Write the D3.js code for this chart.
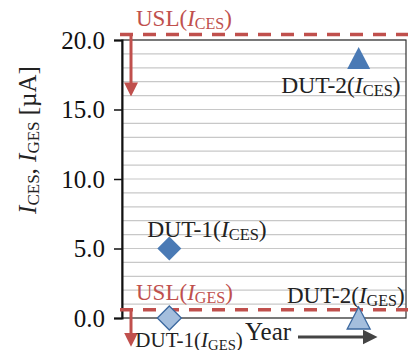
<!DOCTYPE html>
<html>
<head>
<meta charset="utf-8">
<script src="https://cdn.jsdelivr.net/npm/d3@7"></script>
<style>
  html, body { margin: 0; padding: 0; background: #fff; }
  text { font-family: "Liberation Serif", "Times New Roman", serif; }
</style>
</head>
<body>
<div id="root"></div>
<script>
const devices = ["DUT-1", "DUT-2"];
const devicePos = [0.5, 2.5];
const icesValues = [5.0, 18.7];
const igesValues = [0.0, 0.0];
const uslNames = ["CES", "GES"];
const uslValues = [20.4, 0.6];
const yTicks = [0, 5, 10, 15, 20];
const yMinor = d3.range(0, 21, 1);

const width = 408;
const height = 350;
const margin = { top: 40, right: 2, bottom: 32, left: 122 };
const innerWidth = width - margin.left - margin.right;
const innerHeight = height - margin.top - margin.bottom;

const red = "#c0504d";
const blue = "#4a7ab5";
const lightBlue = "#a4bedd";
const textColor = "#222";

const svg = d3.select("#root")
  .append("svg")
  .attr("width", width)
  .attr("height", height)
  .attr("viewBox", `0 0 ${width} ${height}`);

const defs = svg.append("defs");
defs.append("marker")
  .attr("id", "redHead")
  .attr("viewBox", "0 0 10 10")
  .attr("refX", 5).attr("refY", 5)
  .attr("markerUnits", "userSpaceOnUse")
  .attr("markerWidth", 14).attr("markerHeight", 14)
  .attr("orient", "auto")
  .append("path").attr("d", "M0,0 L10,5 L0,10 Z").attr("fill", red);
defs.append("marker")
  .attr("id", "grayHead")
  .attr("viewBox", "0 0 10 10")
  .attr("refX", 5).attr("refY", 5)
  .attr("markerUnits", "userSpaceOnUse")
  .attr("markerWidth", 15).attr("markerHeight", 15)
  .attr("orient", "auto")
  .append("path").attr("d", "M0,0 L10,5 L0,10 Z").attr("fill", "#444");

const g = svg.append("g")
  .attr("transform", `translate(${margin.left}, ${margin.top})`);

const xScale = d3.scaleLinear().domain([0, 3]).range([0, innerWidth]);
const yScale = d3.scaleLinear().domain([0, 20]).range([innerHeight, 0]);

// minor grid
g.selectAll("line.grid")
  .data(yMinor)
  .join("line")
  .attr("class", "grid")
  .attr("x1", 0).attr("x2", innerWidth)
  .attr("y1", d => yScale(d)).attr("y2", d => yScale(d))
  .attr("stroke", "#c8c8c8")
  .attr("stroke-width", 1.2);

// frame
g.append("rect")
  .attr("x", 0).attr("y", 0)
  .attr("width", innerWidth).attr("height", innerHeight)
  .attr("fill", "none")
  .attr("stroke", "#333")
  .attr("stroke-width", 1.2);

// y axis
const yAxis = g.append("g")
  .call(d3.axisLeft(yScale).tickValues(yTicks).tickFormat(d3.format(".1f")).tickSize(8).tickPadding(9));
yAxis.select(".domain").attr("stroke", "#111").attr("stroke-width", 2);
yAxis.selectAll(".tick line").attr("stroke", "#111").attr("stroke-width", 1.5);
yAxis.selectAll(".tick text")
  .attr("font-size", 25)
  .attr("fill", "#111");

// y title
const yTitle = svg.append("text")
  .attr("transform", "translate(36, 140) rotate(-90)")
  .attr("text-anchor", "middle")
  .attr("font-size", 25)
  .attr("fill", textColor);
yTitle.append("tspan").attr("font-style", "italic").text("I");
yTitle.append("tspan").attr("font-size", 17).attr("dy", 3).text("CES");
yTitle.append("tspan").attr("dy", -3).text(", ");
yTitle.append("tspan").attr("font-style", "italic").text("I");
yTitle.append("tspan").attr("font-size", 17).attr("dy", 3).text("GES");
yTitle.append("tspan").attr("dy", -3).text(" [µA]");

function subLabel(sel, main, sub, color, size) {
  const t = sel.append("text").attr("font-size", size).attr("fill", color);
  t.append("tspan").text(main + "(");
  t.append("tspan").attr("font-style", "italic").text("I");
  t.append("tspan").attr("font-size", size * 0.7).attr("dy", 3).text(sub);
  t.append("tspan").attr("dy", -3).text(")");
  return t;
}

// USL lines
uslValues.forEach((v, i) => {
  const y = yScale(v);
  g.append("line")
    .attr("x1", -2).attr("x2", innerWidth + 4)
    .attr("y1", y).attr("y2", y)
    .attr("stroke", red)
    .attr("stroke-width", 3.5)
    .attr("stroke-dasharray", "13,10");
  g.append("line")
    .attr("x1", 9).attr("x2", 9)
    .attr("y1", y).attr("y2", i === 0 ? y + 55 : y + 30)
    .attr("stroke", red)
    .attr("stroke-width", 3)
    .attr("marker-end", "url(#redHead)");
  subLabel(g, "USL", uslNames[i], red, 23)
    .attr("x", 14)
    .attr("y", y - (i === 0 ? 8 : 10));
});

// markers
const diamond = (s) => `M0,${-s} L${s},0 L0,${s} L${-s},0 Z`;
const tri = (w, h) => `M0,${-h / 2} L${w / 2},${h / 2} L${-w / 2},${h / 2} Z`;

const shapes = [diamond(12), tri(23, 22)];

devices.forEach((dev, i) => {
  const x = xScale(devicePos[i]);
  g.append("path")
    .attr("d", shapes[i])
    .attr("transform", `translate(${x}, ${yScale(icesValues[i])})`)
    .attr("fill", blue);
  g.append("path")
    .attr("d", shapes[i])
    .attr("transform", `translate(${x}, ${yScale(igesValues[i])})`)
    .attr("fill", lightBlue)
    .attr("stroke", "#3b689f")
    .attr("stroke-width", 1.3);
});

// point labels
const x1 = xScale(devicePos[0]);
const x2 = xScale(devicePos[1]);
subLabel(g, devices[0], "CES", textColor, 23.5)
  .attr("x", x1 - 22).attr("y", yScale(icesValues[0]) - 12);
subLabel(g, devices[1], "CES", textColor, 23.5)
  .attr("text-anchor", "end")
  .attr("x", x2 + 42).attr("y", yScale(icesValues[1]) + 35);
subLabel(g, devices[1], "GES", textColor, 23)
  .attr("text-anchor", "end")
  .attr("x", x2 + 46).attr("y", yScale(igesValues[1]) - 15);
subLabel(g, devices[0], "GES", textColor, 21)
  .attr("x", x1 - 34).attr("y", yScale(igesValues[0]) + 29);

// x axis label with arrow
svg.append("text")
  .attr("x", 245).attr("y", 340)
  .attr("font-size", 25)
  .attr("fill", textColor)
  .text("Year");
svg.append("line")
  .attr("x1", 298).attr("x2", 370)
  .attr("y1", 337).attr("y2", 337)
  .attr("stroke", "#444")
  .attr("stroke-width", 3)
  .attr("marker-end", "url(#grayHead)");
</script>
</body>
</html>
